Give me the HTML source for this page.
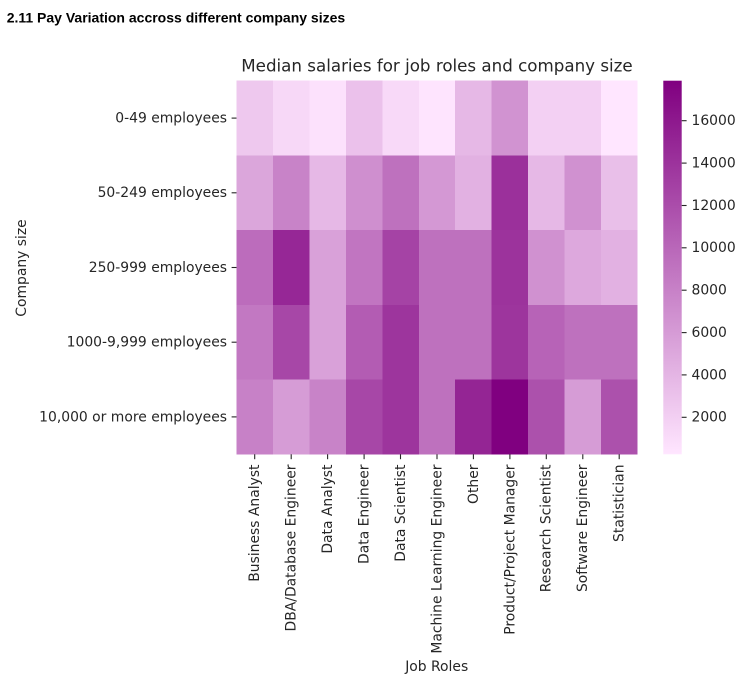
<!DOCTYPE html>
<html>
<head>
<meta charset="utf-8">
<style>
  html, body { margin: 0; padding: 0; background: #ffffff; }
  svg { display: block; }
  .hdr { font-family: "Liberation Sans", Arial, sans-serif; font-weight: bold; font-size: 14px; fill: #000; }
  .t { font-family: "DejaVu Sans", "Liberation Sans", sans-serif; fill: #262626; }
</style>
</head>
<body>
<svg width="750" height="686" viewBox="0 0 750 686" xmlns="http://www.w3.org/2000/svg">
  <defs>
    <linearGradient id="cb" x1="0" y1="1" x2="0" y2="0">
      <stop offset="0" stop-color="#ffe6ff"/>
      <stop offset="1" stop-color="#800080"/>
    </linearGradient>
  </defs>

  <text class="hdr" x="6.7" y="22.7">2.11 Pay Variation accross different company sizes</text>

  <text class="t" x="437" y="71.5" font-size="16.7" text-anchor="middle">Median salaries for job roles and company size</text>

  <!-- Heatmap cells: left 236.5, col width 36.45, top 80.7, row height 74.72 -->
  <g shape-rendering="crispEdges">
    <!-- Row 0: 0-49 -->
    <rect x="236.5" y="80.7" width="36.6" height="74.9" fill="#eec8ee"/>
    <rect x="272.95" y="80.7" width="36.6" height="74.9" fill="#f7d8f7"/>
    <rect x="309.4" y="80.7" width="36.6" height="74.9" fill="#fce1fc"/>
    <rect x="345.85" y="80.7" width="36.6" height="74.9" fill="#ebc1eb"/>
    <rect x="382.3" y="80.7" width="36.6" height="74.9" fill="#f8d9f8"/>
    <rect x="418.75" y="80.7" width="36.6" height="74.9" fill="#fee4fe"/>
    <rect x="455.2" y="80.7" width="36.6" height="74.9" fill="#e6b8e6"/>
    <rect x="491.65" y="80.7" width="36.6" height="74.9" fill="#d193d1"/>
    <rect x="528.1" y="80.7" width="36.6" height="74.9" fill="#f3d0f3"/>
    <rect x="564.55" y="80.7" width="36.6" height="74.9" fill="#f3d0f3"/>
    <rect x="601.0" y="80.7" width="36.5" height="74.9" fill="#ffe6ff"/>
    <!-- Row 1: 50-249 -->
    <rect x="236.5" y="155.42" width="36.6" height="74.9" fill="#dba6db"/>
    <rect x="272.95" y="155.42" width="36.6" height="74.9" fill="#c883c8"/>
    <rect x="309.4" y="155.42" width="36.6" height="74.9" fill="#e6b8e6"/>
    <rect x="345.85" y="155.42" width="36.6" height="74.9" fill="#cf8fcf"/>
    <rect x="382.3" y="155.42" width="36.6" height="74.9" fill="#be71be"/>
    <rect x="418.75" y="155.42" width="36.6" height="74.9" fill="#d498d4"/>
    <rect x="455.2" y="155.42" width="36.6" height="74.9" fill="#e2b1e2"/>
    <rect x="491.65" y="155.42" width="36.6" height="74.9" fill="#9b309b"/>
    <rect x="528.1" y="155.42" width="36.6" height="74.9" fill="#e6b8e6"/>
    <rect x="564.55" y="155.42" width="36.6" height="74.9" fill="#d091d0"/>
    <rect x="601.0" y="155.42" width="36.5" height="74.9" fill="#e9bfe9"/>
    <!-- Row 2: 250-999 -->
    <rect x="236.5" y="230.14" width="36.6" height="74.9" fill="#bc6cbc"/>
    <rect x="272.95" y="230.14" width="36.6" height="74.9" fill="#962796"/>
    <rect x="309.4" y="230.14" width="36.6" height="74.9" fill="#d9a1d9"/>
    <rect x="345.85" y="230.14" width="36.6" height="74.9" fill="#c175c1"/>
    <rect x="382.3" y="230.14" width="36.6" height="74.9" fill="#a543a5"/>
    <rect x="418.75" y="230.14" width="36.6" height="74.9" fill="#be71be"/>
    <rect x="455.2" y="230.14" width="36.6" height="74.9" fill="#be71be"/>
    <rect x="491.65" y="230.14" width="36.6" height="74.9" fill="#9c339c"/>
    <rect x="528.1" y="230.14" width="36.6" height="74.9" fill="#d091d0"/>
    <rect x="564.55" y="230.14" width="36.6" height="74.9" fill="#dda8dd"/>
    <rect x="601.0" y="230.14" width="36.5" height="74.9" fill="#e2b1e2"/>
    <!-- Row 3: 1000-9,999 -->
    <rect x="236.5" y="304.86" width="36.6" height="74.9" fill="#c278c2"/>
    <rect x="272.95" y="304.86" width="36.6" height="74.9" fill="#a747a7"/>
    <rect x="309.4" y="304.86" width="36.6" height="74.9" fill="#d9a1d9"/>
    <rect x="345.85" y="304.86" width="36.6" height="74.9" fill="#b35cb3"/>
    <rect x="382.3" y="304.86" width="36.6" height="74.9" fill="#9d359d"/>
    <rect x="418.75" y="304.86" width="36.6" height="74.9" fill="#be71be"/>
    <rect x="455.2" y="304.86" width="36.6" height="74.9" fill="#be71be"/>
    <rect x="491.65" y="304.86" width="36.6" height="74.9" fill="#9d359d"/>
    <rect x="528.1" y="304.86" width="36.6" height="74.9" fill="#b763b7"/>
    <rect x="564.55" y="304.86" width="36.6" height="74.9" fill="#be71be"/>
    <rect x="601.0" y="304.86" width="36.5" height="74.9" fill="#be71be"/>
    <!-- Row 4: 10,000+ -->
    <rect x="236.5" y="379.58" width="36.6" height="74.72" fill="#c781c7"/>
    <rect x="272.95" y="379.58" width="36.6" height="74.72" fill="#d69cd6"/>
    <rect x="309.4" y="379.58" width="36.6" height="74.72" fill="#c883c8"/>
    <rect x="345.85" y="379.58" width="36.6" height="74.72" fill="#a747a7"/>
    <rect x="382.3" y="379.58" width="36.6" height="74.72" fill="#9d359d"/>
    <rect x="418.75" y="379.58" width="36.6" height="74.72" fill="#be71be"/>
    <rect x="455.2" y="379.58" width="36.6" height="74.72" fill="#942594"/>
    <rect x="491.65" y="379.58" width="36.6" height="74.72" fill="#800080"/>
    <rect x="528.1" y="379.58" width="36.6" height="74.72" fill="#ac51ac"/>
    <rect x="564.55" y="379.58" width="36.6" height="74.72" fill="#d69cd6"/>
    <rect x="601.0" y="379.58" width="36.5" height="74.72" fill="#ac51ac"/>
  </g>

  <!-- Y ticks -->
  <g stroke="#262626" stroke-width="1.1">
    <line x1="231.6" y1="118.1" x2="236.5" y2="118.1"/>
    <line x1="231.6" y1="192.8" x2="236.5" y2="192.8"/>
    <line x1="231.6" y1="267.5" x2="236.5" y2="267.5"/>
    <line x1="231.6" y1="342.2" x2="236.5" y2="342.2"/>
    <line x1="231.6" y1="416.9" x2="236.5" y2="416.9"/>
  </g>
  <g class="t" font-size="13.9" text-anchor="end">
    <text x="227" y="122.5">0-49 employees</text>
    <text x="227" y="197.2">50-249 employees</text>
    <text x="227" y="271.9">250-999 employees</text>
    <text x="227" y="346.6">1000-9,999 employees</text>
    <text x="227" y="421.3">10,000 or more employees</text>
  </g>
  <text class="t" font-size="13.9" text-anchor="middle" transform="translate(26,268) rotate(-90)">Company size</text>

  <!-- X ticks -->
  <g stroke="#262626" stroke-width="1.1">
    <line x1="254.7" y1="454.3" x2="254.7" y2="459.2"/>
    <line x1="291.2" y1="454.3" x2="291.2" y2="459.2"/>
    <line x1="327.6" y1="454.3" x2="327.6" y2="459.2"/>
    <line x1="364.1" y1="454.3" x2="364.1" y2="459.2"/>
    <line x1="400.5" y1="454.3" x2="400.5" y2="459.2"/>
    <line x1="437.0" y1="454.3" x2="437.0" y2="459.2"/>
    <line x1="473.4" y1="454.3" x2="473.4" y2="459.2"/>
    <line x1="509.9" y1="454.3" x2="509.9" y2="459.2"/>
    <line x1="546.3" y1="454.3" x2="546.3" y2="459.2"/>
    <line x1="582.8" y1="454.3" x2="582.8" y2="459.2"/>
    <line x1="619.2" y1="454.3" x2="619.2" y2="459.2"/>
  </g>
  <g class="t" font-size="13.9" text-anchor="end">
    <text transform="translate(259.1,464.5) rotate(-90)">Business Analyst</text>
    <text transform="translate(295.6,464.5) rotate(-90)">DBA/Database Engineer</text>
    <text transform="translate(332.0,464.5) rotate(-90)">Data Analyst</text>
    <text transform="translate(368.5,464.5) rotate(-90)">Data Engineer</text>
    <text transform="translate(404.9,464.5) rotate(-90)">Data Scientist</text>
    <text transform="translate(441.4,464.5) rotate(-90)">Machine Learning Engineer</text>
    <text transform="translate(477.8,464.5) rotate(-90)">Other</text>
    <text transform="translate(514.3,464.5) rotate(-90)">Product/Project Manager</text>
    <text transform="translate(550.7,464.5) rotate(-90)">Research Scientist</text>
    <text transform="translate(587.2,464.5) rotate(-90)">Software Engineer</text>
    <text transform="translate(623.6,464.5) rotate(-90)">Statistician</text>
  </g>
  <text class="t" x="436.7" y="670.8" font-size="13.9" text-anchor="middle">Job Roles</text>

  <!-- Colorbar -->
  <rect x="663.3" y="80.7" width="18.4" height="373.6" fill="url(#cb)"/>
  <g stroke="#262626" stroke-width="1.1">
    <line x1="681.7" y1="120.7" x2="686.6" y2="120.7"/>
    <line x1="681.7" y1="163.1" x2="686.6" y2="163.1"/>
    <line x1="681.7" y1="205.5" x2="686.6" y2="205.5"/>
    <line x1="681.7" y1="247.8" x2="686.6" y2="247.8"/>
    <line x1="681.7" y1="290.2" x2="686.6" y2="290.2"/>
    <line x1="681.7" y1="332.6" x2="686.6" y2="332.6"/>
    <line x1="681.7" y1="374.9" x2="686.6" y2="374.9"/>
    <line x1="681.7" y1="417.3" x2="686.6" y2="417.3"/>
  </g>
  <g class="t" font-size="13.9">
    <text x="691.5" y="125.1">16000</text>
    <text x="691.5" y="167.5">14000</text>
    <text x="691.5" y="209.9">12000</text>
    <text x="691.5" y="252.2">10000</text>
    <text x="691.5" y="294.6">8000</text>
    <text x="691.5" y="337.0">6000</text>
    <text x="691.5" y="379.3">4000</text>
    <text x="691.5" y="421.7">2000</text>
  </g>
</svg>
</body>
</html>
